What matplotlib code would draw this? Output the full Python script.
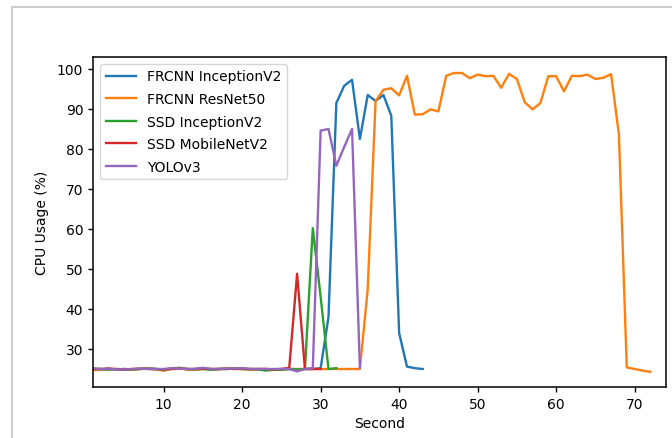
import numpy as np
import matplotlib
matplotlib.use("Agg")
import matplotlib.pyplot as plt
from matplotlib.patches import Rectangle

# CPU usage per second for each detector
frcnn_incep = [25.0, 24.9, 25.1, 24.8, 25.0, 24.9, 25.0, 25.1, 25.0, 24.7,
               25.1, 25.2, 24.9, 25.0, 25.1, 24.9, 25.0, 25.0, 25.1, 25.0,
               24.9, 25.0, 24.8, 24.9, 25.0, 25.0, 24.9, 25.0, 25.0, 25.2,
               38.0, 91.5, 95.8, 97.3, 82.5, 93.5, 92.0, 93.5, 88.3, 34.0,
               25.6, 25.2, 25.0]
frcnn_resnet = [24.7, 24.8, 25.0, 24.9, 25.0, 24.8, 25.0, 25.1, 24.9, 24.6,
                25.0, 25.1, 24.9, 24.8, 25.0, 25.0, 24.9, 25.1, 25.0, 25.0,
                24.8, 24.9, 25.0, 24.8, 24.9, 25.0, 25.0, 25.0, 25.0, 25.0,
                25.0, 25.0, 25.0, 25.0, 25.0, 45.0, 92.0, 94.8, 95.2, 93.4,
                98.3, 88.6, 88.7, 89.9, 89.4, 98.3, 99.0, 99.0, 97.7, 98.6,
                98.2, 98.3, 95.3, 98.8, 97.5, 91.7, 89.9, 91.5, 98.2, 98.2,
                94.4, 98.3, 98.2, 98.6, 97.5, 97.8, 98.7, 83.6, 25.4, 25.0,
                24.6, 24.3]
ssd_incep = [25.1, 25.0, 24.8, 25.0, 24.8, 24.9, 25.0, 25.1, 25.0, 24.8,
             25.1, 25.3, 25.0, 24.9, 25.0, 24.8, 25.0, 25.0, 25.1, 25.0,
             25.0, 24.9, 24.6, 24.8, 24.8, 25.0, 24.9, 25.0, 60.2, 43.0,
             25.0, 25.2]
ssd_mobile = [25.0, 25.0, 25.1, 25.0, 24.9, 25.0, 25.1, 25.0, 25.0, 24.9,
              25.0, 25.1, 25.0, 25.0, 25.1, 25.0, 25.0, 25.1, 25.0, 25.1,
              25.0, 25.0, 25.0, 24.9, 25.0, 25.3, 48.8, 25.0, 25.0, 25.0]
yolo = [25.1, 25.0, 25.0, 24.9, 24.9, 25.0, 25.1, 25.0, 25.0, 25.0,
        25.2, 25.1, 25.0, 25.0, 25.3, 25.0, 25.0, 25.1, 25.1, 25.2,
        25.0, 25.0, 25.0, 25.0, 25.0, 25.0, 24.4, 25.0, 25.2, 84.6,
        85.0, 75.8, 80.5, 85.0, 25.3]

series = [("FRCNN InceptionV2", frcnn_incep, "#1f77b4"),
          ("FRCNN ResNet50", frcnn_resnet, "#ff7f0e"),
          ("SSD InceptionV2", ssd_incep, "#2ca02c"),
          ("SSD MobileNetV2", ssd_mobile, "#d62728"),
          ("YOLOv3", yolo, "#9467bd")]

plt.rcParams["font.family"] = "DejaVu Sans"
fig = plt.figure(figsize=(6.72, 4.39), dpi=100)
ax = fig.add_axes([0.1384, 0.1162, 0.8527, 0.7517])

for name, vals, col in series:
    secs = np.arange(1, len(vals) + 1)
    ax.plot(secs, vals, color=col, lw=1.7, label=name)

ax.set_xlim(1, 74)
ax.set_ylim(20.5, 103)
ax.set_xticks(range(10, 71, 10))
ax.set_yticks(range(30, 101, 10))
ax.tick_params(labelsize=10, width=1.0)
for sp in ax.spines.values():
    sp.set_linewidth(1.1)
ax.set_xlabel("Second", fontsize=10)
ax.set_ylabel("CPU Usage (%)", fontsize=10, labelpad=6)
ax.legend(loc="upper left", fontsize=10, handlelength=2.2, labelspacing=0.62)

# light frame of the screenshot
fig.add_artist(Rectangle((12 / 672, -0.1), 1.2, 1.1 - 7.7 / 439,
                         transform=fig.transFigure, fill=False,
                         edgecolor="#c4c4c4", lw=1.2))

fig.savefig("out.png", dpi=100)
